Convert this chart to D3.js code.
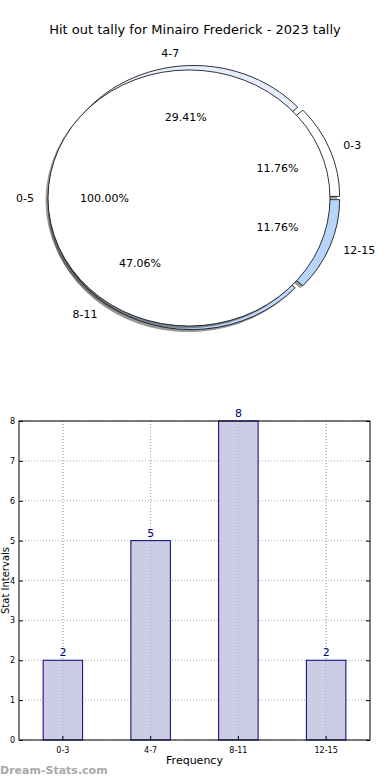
<!DOCTYPE html>
<html lang="en">
<head>
<meta charset="utf-8">
<script src="https://d3js.org/d3.v7.min.js"></script>
<style>
  body { margin: 0; background: #fff; font-family: "DejaVu Sans", sans-serif; }
  svg { display: block; }
</style>
</head>
<body>
<script>
// data
var title = "Hit out tally for Minairo Frederick - 2023 tally";
var categories = ["0-3", "4-7", "8-11", "12-15"];
var counts = [2, 5, 8, 2];
var pieColors = ["#ffffff", "#e6eefd", "#bfd8fb", "#b7d5fb"];
var innerLabel = ["0-5"];
var innerCounts = [1];
var yTicks = [0, 1, 2, 3, 4, 5, 6, 7, 8];

var W = 390, H = 780;
var svg = d3.select("body").append("svg").attr("width", W).attr("height", H);

svg.append("text")
  .attr("x", 195).attr("y", 34)
  .attr("text-anchor", "middle")
  .style("font-size", "13px")
  .text(title);

// ---- pie ----
var cx = 194, cy = 198, rx = 141, ry = 128, ex = 5;
var sy = ry / rx;
var pie = d3.pie().sort(null)
  .startAngle(Math.PI / 2).endAngle(Math.PI / 2 - 2 * Math.PI);  // ccw from 3 o'clock
var arc = d3.arc().innerRadius(0).outerRadius(rx);
var total = d3.sum(counts);

function mid(d) { return (d.startAngle + d.endAngle) / 2; }
// d3 angle: 0 = up, clockwise; y squashed to make the ellipse
function pos(a, r) {
  return [Math.sin(a) * r, -Math.cos(a) * r * sy];
}

function drawPie(data, colors) {
  var arcs = pie(data);
  var g = svg.append("g");
  // shadows
  g.selectAll("path.sh").data(arcs).enter().append("path")
    .attr("class", "sh")
    .attr("d", arc)
    .attr("transform", function(d) {
      var p = pos(mid(d), ex);
      return "translate(" + (cx + p[0] - 2.5) + "," + (cy + p[1] + 2.5) + ") scale(1," + sy + ")";
    })
    .style("fill", "#333").style("opacity", 0.5);
  g.selectAll("path.w").data(arcs).enter().append("path")
    .attr("class", "w")
    .attr("d", arc)
    .attr("transform", function(d) {
      var p = pos(mid(d), ex);
      return "translate(" + (cx + p[0]) + "," + (cy + p[1]) + ") scale(1," + sy + ")";
    })
    .attr("vector-effect", "non-scaling-stroke")
    .style("fill", function(d, i) { return colors[i]; })
    .style("stroke", "#000").style("stroke-width", 0.8);
  return arcs;
}

var outerArcs = drawPie(counts, pieColors);
var innerArcs = drawPie(innerCounts, ["#ffffff"]);

function drawLabels(arcs, labels, sum) {
  arcs.forEach(function(d, i) {
    var a = mid(d);
    var e = pos(a, ex);
    var p = pos(a, rx * 1.1);
    svg.append("text")
      .attr("x", cx + e[0] + p[0]).attr("y", cy + e[1] + p[1])
      .attr("dy", "0.35em")
      .attr("text-anchor", Math.sin(a) > 0 ? "start" : "end")
      .style("font-size", "11px")
      .text(labels[i]);
    var q = pos(a, rx * 0.6);
    svg.append("text")
      .attr("x", cx + e[0] + q[0]).attr("y", cy + e[1] + q[1])
      .attr("dy", "0.35em")
      .attr("text-anchor", "middle")
      .style("font-size", "11px")
      .text((d.data / sum * 100).toFixed(2) + "%");
  });
}
drawLabels(outerArcs, categories, total);
drawLabels(innerArcs, innerLabel, d3.sum(innerCounts));

// ---- bar chart ----
var L = 19, R = 370, T = 421, B = 740;
var x = d3.scaleBand().domain(categories).range([L, R]).paddingInner(0.55).paddingOuter(0.275);
var y = d3.scaleLinear().domain([0, 8]).range([B, T]);
var bar = svg.append("g");

// grid
bar.selectAll("line.gy").data(yTicks).enter().append("line")
  .attr("x1", L).attr("x2", R)
  .attr("y1", function(d) { return y(d); }).attr("y2", function(d) { return y(d); })
  .style("stroke", "#b0b0b0").style("stroke-dasharray", "1,2");
bar.selectAll("line.gx").data(categories).enter().append("line")
  .attr("x1", function(d) { return x(d) + x.bandwidth() / 2; })
  .attr("x2", function(d) { return x(d) + x.bandwidth() / 2; })
  .attr("y1", T).attr("y2", B)
  .style("stroke", "#b0b0b0").style("stroke-dasharray", "1,2");

bar.selectAll("rect.b").data(counts).enter().append("rect")
  .attr("x", function(d, i) { return x(categories[i]); })
  .attr("y", function(d) { return y(d); })
  .attr("width", x.bandwidth())
  .attr("height", function(d) { return B - y(d); })
  .style("fill", "#cccce4")
  .style("stroke", "#000080").style("stroke-width", 1);

// vertical grid again over the bars
bar.selectAll("line.gx2").data(categories).enter().append("line")
  .attr("x1", function(d) { return x(d) + x.bandwidth() / 2; })
  .attr("x2", function(d) { return x(d) + x.bandwidth() / 2; })
  .attr("y1", T).attr("y2", B)
  .style("stroke", "#a8a8b8").style("stroke-dasharray", "1,2");

bar.selectAll("text.v").data(counts).enter().append("text")
  .attr("x", function(d, i) { return x(categories[i]) + x.bandwidth() / 2; })
  .attr("y", function(d) { return y(d) - 4; })
  .attr("text-anchor", "middle")
  .style("font-size", "11px").style("fill", "#000080")
  .text(function(d) { return d; });

// axes
var yAxis = d3.axisLeft(y).tickValues(yTicks).tickSize(-4).tickPadding(4);
var gy = bar.append("g").attr("transform", "translate(" + L + ",0)").call(yAxis);
var gyr = bar.append("g").attr("transform", "translate(" + R + ",0)")
  .call(d3.axisRight(y).tickValues(yTicks).tickSize(-4).tickFormat(""));
var xAxis = d3.axisBottom(x).tickSize(-4).tickPadding(7);
var gx = bar.append("g").attr("transform", "translate(0," + B + ")").call(xAxis);
[gy, gyr, gx].forEach(function(g) {
  g.select(".domain").remove();
  g.selectAll("text").style("font-size", "8px").style("font-family", "DejaVu Sans, sans-serif");
});

bar.append("rect")
  .attr("x", L).attr("y", T).attr("width", R - L).attr("height", B - T)
  .style("fill", "none").style("stroke", "#000").style("stroke-width", 1);

svg.append("text")
  .attr("x", (L + R) / 2).attr("y", 764)
  .attr("text-anchor", "middle")
  .style("font-size", "11px")
  .text("Frequency");

svg.append("text")
  .attr("transform", "translate(9," + ((T + B) / 2) + ") rotate(-90)")
  .attr("text-anchor", "middle")
  .style("font-size", "10px")
  .text("Stat Intervals");

svg.append("text")
  .attr("x", 0).attr("y", 774)
  .style("font-size", "11px").style("font-weight", "bold")
  .style("fill", "#a8a8a8")
  .text("Dream-Stats.com");
</script>
</body>
</html>
